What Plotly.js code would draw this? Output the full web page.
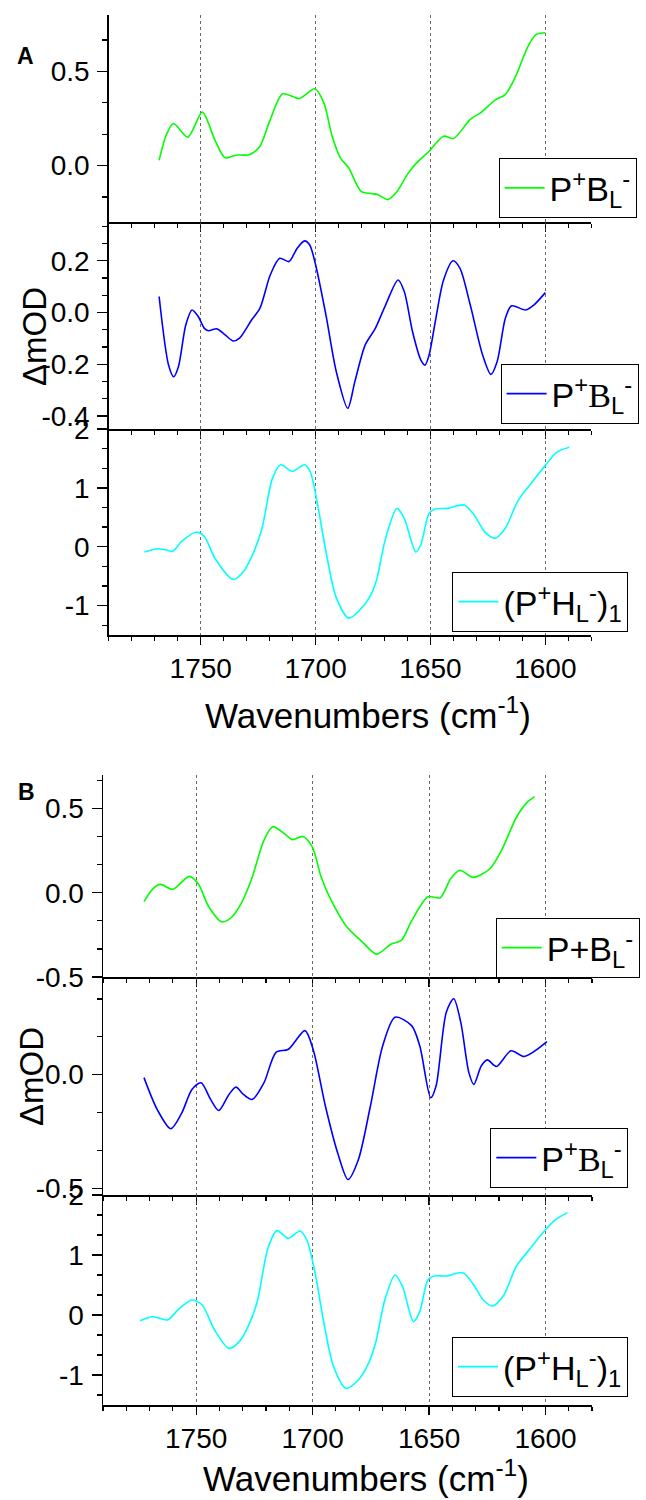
<!DOCTYPE html>
<html><head><meta charset="utf-8">
<script src="https://cdn.plot.ly/plotly-3.0.1.min.js"></script>
<style>body{margin:0;padding:0;background:#fff}</style>
</head><body>
<div id="chart" style="width:646px;height:1500px"></div>
<script>
// ---- Data (wavenumber cm^-1, ΔmOD) ----
const wnA1 = [1768.1,1764.9,1761.8,1755.6,1749.3,1743.9,1739.4,1734.9,1728.6,1724.2,1719.7,1714.3,1707.1,1700.3,1696.4,1692.8,1689.2,1685.6,1680.2,1675.7,1673.0,1668.6,1665.0,1659.6,1656.0,1650.6,1644.3,1639.9,1632.7,1628.2,1621.9,1617.4,1612.9,1607.5,1604.0,1600.0];
const odA1 = [0.028,0.165,0.223,0.151,0.284,0.138,0.041,0.055,0.059,0.103,0.245,0.381,0.356,0.408,0.333,0.156,0.041,-0.012,-0.137,-0.149,-0.154,-0.181,-0.145,-0.039,0.014,0.076,0.156,0.144,0.245,0.280,0.348,0.378,0.475,0.635,0.697,0.706];

const wnA2 = [1768.1,1764.0,1761.8,1759.7,1756.5,1753.8,1751.1,1748.4,1746.6,1743.0,1739.4,1735.8,1733.1,1727.8,1724.2,1719.7,1715.6,1711.6,1708.0,1704.8,1702.6,1700.0,1695.5,1691.0,1686.0,1682.9,1678.4,1674.0,1669.5,1664.1,1661.4,1657.8,1654.2,1652.4,1650.6,1647.9,1644.3,1640.2,1637.2,1632.7,1627.3,1623.7,1621.0,1617.4,1614.7,1608.5,1604.9,1600.0];
const odA2 = [0.062,-0.203,-0.248,-0.209,-0.048,0.010,-0.015,-0.061,-0.070,-0.063,-0.086,-0.110,-0.099,-0.028,0.017,0.146,0.210,0.197,0.249,0.277,0.262,0.185,-0.009,-0.228,-0.370,-0.267,-0.125,-0.061,0.030,0.126,0.081,-0.074,-0.183,-0.203,-0.164,-0.035,0.126,0.200,0.172,0.030,-0.164,-0.239,-0.190,-0.022,0.026,0.010,0.030,0.077];

const wnA3 = [1774.4,1769.0,1765.4,1762.2,1758.3,1752.0,1748.4,1743.9,1735.8,1731.3,1726.8,1723.3,1718.8,1715.2,1710.2,1704.8,1702.3,1699.1,1695.5,1691.0,1685.6,1681.1,1676.6,1673.6,1669.5,1664.6,1661.4,1656.4,1654.2,1650.6,1647.9,1642.5,1635.3,1630.8,1626.3,1621.9,1617.4,1612.0,1605.7,1600.0,1595.0,1589.6];
const odA3 = [-0.090,-0.034,-0.051,-0.079,0.090,0.247,0.174,-0.191,-0.556,-0.416,-0.079,0.315,1.157,1.393,1.281,1.393,1.270,0.708,-0.079,-0.865,-1.213,-1.090,-0.865,-0.584,0.146,0.652,0.483,-0.090,0.034,0.567,0.640,0.652,0.708,0.528,0.247,0.146,0.315,0.775,1.101,1.382,1.607,1.691];

const wnB1 = [1772.4,1768.5,1765.3,1760.0,1753.0,1749.1,1744.7,1739.1,1735.0,1730.6,1726.2,1720.9,1717.1,1712.1,1708.6,1704.2,1700.2,1696.3,1692.8,1685.7,1678.7,1672.5,1666.4,1661.9,1657.5,1650.5,1645.2,1640.8,1636.8,1631.1,1624.1,1618.8,1612.6,1608.2,1604.7];
const odB1 = [-0.052,0.025,0.050,0.021,0.098,0.054,-0.080,-0.172,-0.148,-0.061,0.082,0.312,0.393,0.351,0.316,0.335,0.274,0.092,-0.023,-0.195,-0.291,-0.364,-0.305,-0.282,-0.167,-0.023,-0.029,0.082,0.134,0.092,0.140,0.255,0.446,0.533,0.571];

const wnB2 = [1772.4,1766.7,1760.9,1756.2,1751.8,1747.9,1743.8,1740.3,1735.9,1732.9,1729.7,1725.9,1720.9,1715.7,1710.4,1703.3,1699.8,1694.5,1689.2,1684.8,1680.4,1675.2,1669.9,1664.6,1657.5,1654.0,1649.3,1647.0,1642.6,1639.4,1636.4,1632.9,1630.8,1627.6,1625.0,1621.1,1614.8,1609.1,1599.4];
const odB2 = [-0.013,-0.154,-0.238,-0.169,-0.065,-0.036,-0.109,-0.158,-0.087,-0.055,-0.087,-0.109,-0.036,0.098,0.112,0.194,0.112,-0.139,-0.346,-0.462,-0.376,-0.139,0.127,0.253,0.216,0.127,-0.102,-0.050,0.275,0.334,0.231,0.009,-0.043,0.038,0.065,0.036,0.105,0.080,0.145];

const wnB3 = [1774.1,1768.5,1762.3,1757.9,1751.8,1747.4,1742.1,1735.9,1731.5,1727.1,1723.6,1719.2,1715.3,1710.4,1705.4,1702.5,1698.9,1695.4,1691.0,1685.7,1680.4,1676.0,1673.0,1669.0,1664.6,1661.4,1656.7,1654.0,1650.5,1647.9,1642.6,1635.5,1631.1,1626.7,1622.7,1617.9,1612.6,1606.5,1600.8,1595.9,1590.6];
const odB3 = [-0.094,-0.028,-0.083,0.083,0.250,0.167,-0.250,-0.556,-0.444,-0.139,0.250,1.111,1.406,1.278,1.400,1.250,0.694,-0.083,-0.861,-1.222,-1.083,-0.806,-0.472,0.250,0.667,0.472,-0.111,0.056,0.583,0.650,0.650,0.706,0.517,0.250,0.150,0.333,0.806,1.111,1.389,1.583,1.706];

// ---- Labels ----
const legendNames = [
  "P<sup>+</sup>B<sub>L</sub><sup>-</sup>",
  "P<sup>+</sup><span style=\"font-family:'Liberation Serif',serif\">B</span><sub>L</sub><sup>-</sup>",
  "(P<sup>+</sup>H<sub>L</sub><sup>-</sup>)<sub>1</sub>",
  "P+B<sub>L</sub><sup>-</sup>",
  "P<sup>+</sup><span style=\"font-family:'Liberation Serif',serif\">B</span><sub>L</sub><sup>-</sup>",
  "(P<sup>+</sup>H<sub>L</sub><sup>-</sup>)<sub>1</sub>"
];
const xTickVals = [1750, 1700, 1650, 1600];
const xTickText = ["1750", "1700", "1650", "1600"];
const yTicksA1 = {vals:[0,0.5], text:["0.0","0.5"]};
const yTicksA2 = {vals:[-0.4,-0.2,0,0.2], text:["-0.4","-0.2","0.0","0.2"]};
const yTicksA3 = {vals:[-1,0,1,2], text:["-1","0","1","2"]};
const yTicksB1 = {vals:[-0.5,0,0.5], text:["-0.5","0.0","0.5"]};
const yTicksB2 = {vals:[-0.5,0], text:["-0.5","0.0"]};
const yTicksB3 = {vals:[-1,0,1,2], text:["-1","0","1","2"]};

const colors = ["#00ff00", "#0000ff", "#00ffff", "#00ff00", "#0000ff", "#00ffff"];
const series = [[wnA1,odA1],[wnA2,odA2],[wnA3,odA3],[wnB1,odB1],[wnB2,odB2],[wnB3,odB3]];

const W = 646, H = 1500;
const px = v => v / W;
const py = v => 1 - v / H;

const traces = series.map((s, i) => ({
  x: s[0], y: s[1], type: 'scatter', mode: 'lines',
  line: {color: colors[i], width: 1.6, shape: 'spline', smoothing: 0.8},
  name: legendNames[i],
  xaxis: i === 0 ? 'x' : 'x' + (i + 1),
  yaxis: i === 0 ? 'y' : 'y' + (i + 1),
  legend: i === 0 ? 'legend' : 'legend' + (i + 1),
  showlegend: true,
  hoverinfo: 'skip'
}));

const tickFont = {family: 'Liberation Sans, Arial, sans-serif', size: 28, color: 'black'};

function xAx(dom, anchor, showLabels) {
  return {
    domain: dom, anchor: anchor, range: [1790, 1580],
    showline: true, linecolor: 'black', linewidth: 1.5,
    ticks: 'outside', ticklen: 8, tickwidth: 1.3, tickcolor: 'black',
    tickmode: 'array', tickvals: xTickVals, ticktext: xTickText,
    showticklabels: showLabels, tickfont: tickFont, ticklabelstandoff: 0,
    minor: {tickmode: 'linear', tick0: 0, dtick: 10, ticks: 'outside', ticklen: 4.5, tickwidth: 1.2, tickcolor: 'black', showgrid: false},
    showgrid: true, gridcolor: '#444', griddash: 'dot', gridwidth: 0.8,
    zeroline: false, fixedrange: true, automargin: false
  };
}
function yAx(dom, anchor, range, t, minorStep) {
  return {
    domain: dom, anchor: anchor, range: range,
    showline: true, linecolor: 'black', linewidth: 1.5,
    ticks: 'outside', ticklen: 10, tickwidth: 1.3, tickcolor: 'black',
    tickmode: 'array', tickvals: t.vals, ticktext: t.text,
    tickfont: tickFont, ticklabelstandoff: 2,
    minor: {tickmode: 'linear', tick0: 0, dtick: minorStep, ticks: 'outside', ticklen: 5, tickwidth: 1.2, tickcolor: 'black', showgrid: false},
    showgrid: false, zeroline: false, fixedrange: true, automargin: false
  };
}

const xdA = [px(108.8), px(591.3)];
const xdB = [px(103), px(592.1)];

function legendAt(left, top) {
  return {
    x: px(left), y: py(top), xanchor: 'left', yanchor: 'top',
    bgcolor: 'white', bordercolor: 'black', borderwidth: 1,
    font: {family: 'Liberation Sans, Arial, sans-serif', size: 34, color: 'black'},
    itemwidth: 40, tracegroupgap: 0
  };
}

const annFont = {family: 'Liberation Sans, Arial, sans-serif', color: 'black'};
const layout = {
  width: W, height: H,
  margin: {l: 0, r: 0, t: 0, b: 0, autoexpand: false},
  paper_bgcolor: 'white', plot_bgcolor: 'white',
  showlegend: true,
  font: {family: 'Liberation Sans, Arial, sans-serif', color: 'black'},
  xaxis:  xAx(xdA, 'y', false),
  xaxis2: xAx(xdA, 'y2', false),
  xaxis3: xAx(xdA, 'y3', true),
  xaxis4: xAx(xdB, 'y4', false),
  xaxis5: xAx(xdB, 'y5', false),
  xaxis6: xAx(xdB, 'y6', true),
  yaxis:  yAx([py(222), py(15)], 'x', [-0.3, 0.8], yTicksA1, 1/6),
  yaxis2: yAx([py(429), py(222)], 'x2', [-0.45, 0.35], yTicksA2, 1/15),
  yaxis3: yAx([py(635), py(429)], 'x3', [-1.5, 2], yTicksA3, 1/3),
  yaxis4: yAx([py(977), py(775)], 'x4', [-0.5, 0.7], yTicksB1, 1/6),
  yaxis5: yAx([py(1195), py(977)], 'x5', [-0.53, 0.43], yTicksB2, 1/6),
  yaxis6: yAx([py(1405), py(1195)], 'x6', [-1.5, 2], yTicksB3, 1/3),
  legend:  legendAt(498.6, 158.3),
  legend2: legendAt(500.6, 364),
  legend3: legendAt(452.4, 572),
  legend4: legendAt(495.7, 918),
  legend5: legendAt(490.3, 1128),
  legend6: legendAt(452, 1337),
  annotations: [
    {text: '<b>A</b>', x: px(25.7), y: py(55.7), xref: 'paper', yref: 'paper', showarrow: false, xanchor: 'center', yanchor: 'middle', font: Object.assign({size: 23}, annFont)},
    {text: '<b>B</b>', x: px(27), y: py(792), xref: 'paper', yref: 'paper', showarrow: false, xanchor: 'center', yanchor: 'middle', font: Object.assign({size: 23}, annFont)},
    {text: 'ΔmOD', textangle: -90, x: px(34), y: py(337), xref: 'paper', yref: 'paper', showarrow: false, xanchor: 'center', yanchor: 'middle', font: Object.assign({size: 33}, annFont)},
    {text: 'ΔmOD', textangle: -90, x: px(31), y: py(1077), xref: 'paper', yref: 'paper', showarrow: false, xanchor: 'center', yanchor: 'middle', font: Object.assign({size: 33}, annFont)},
    {text: 'Wavenumbers (cm<sup>-1</sup>)', x: px(367.7), y: py(713), xref: 'paper', yref: 'paper', showarrow: false, xanchor: 'center', yanchor: 'middle', font: Object.assign({size: 35}, annFont)},
    {text: 'Wavenumbers (cm<sup>-1</sup>)', x: px(365.7), y: py(1476), xref: 'paper', yref: 'paper', showarrow: false, xanchor: 'center', yanchor: 'middle', font: Object.assign({size: 35}, annFont)}
  ]
};

Plotly.newPlot('chart', traces, layout, {staticPlot: true, displayModeBar: false});
</script>
</body></html>
